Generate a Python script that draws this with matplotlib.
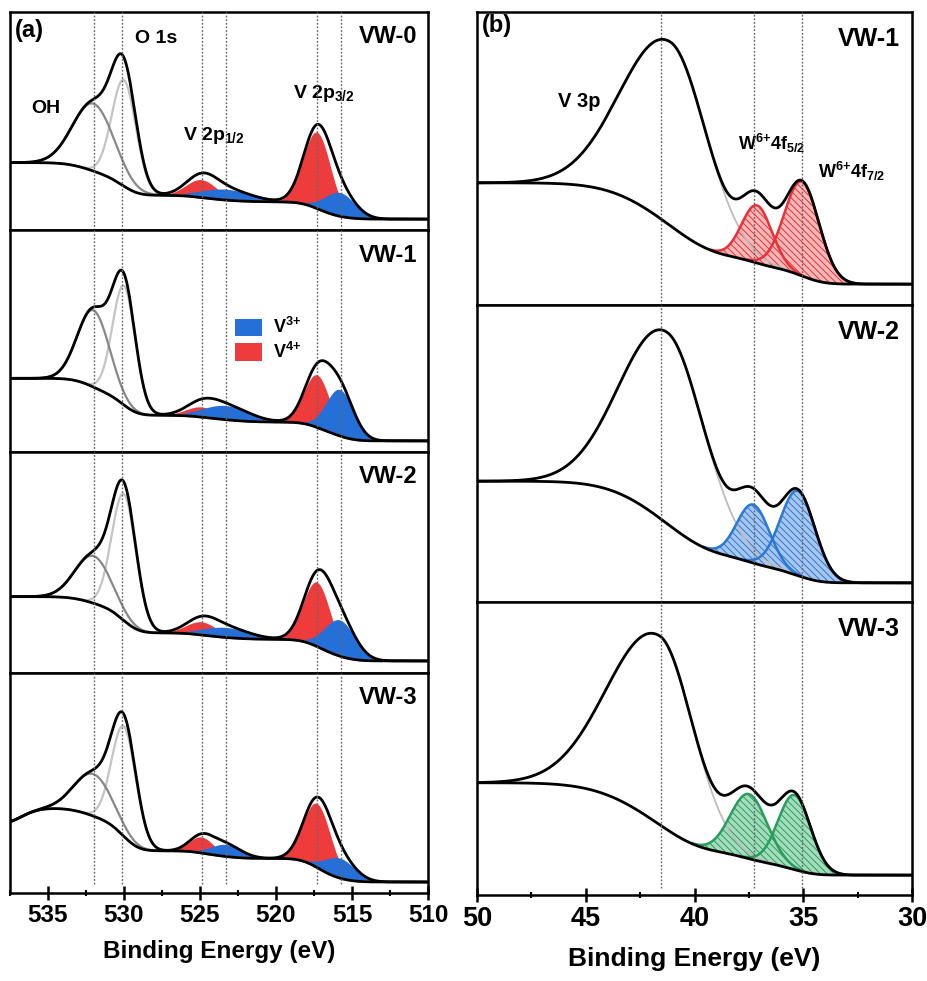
import numpy as np
import matplotlib
matplotlib.use('Agg')
import matplotlib.pyplot as plt
from matplotlib.patches import Patch
from matplotlib.ticker import MultipleLocator

plt.rcParams['font.family'] = ['Liberation Sans', 'DejaVu Sans']
plt.rcParams['font.weight'] = 'bold'
plt.rcParams['axes.labelweight'] = 'bold'
plt.rcParams['mathtext.fontset'] = 'custom'
plt.rcParams['mathtext.rm'] = 'Liberation Sans:bold'
plt.rcParams['mathtext.it'] = 'Liberation Sans:bold'
plt.rcParams['mathtext.bf'] = 'Liberation Sans:bold'
plt.rcParams['hatch.linewidth'] = 0.7

# ---------------- (a) O 1s + V 2p ----------------
samples_a = ['VW-0', 'VW-1', 'VW-2', 'VW-3']
ref_lines_a = [532.0, 530.1, 524.9, 523.3, 517.3, 515.75]
ticks_a = [535, 530, 525, 520, 515, 510]

# peak centres (eV)
oh_c, latt_c = 532.0, 530.0
v4_32_c, v3_32_c = 517.3, 515.8
v4_12_c, v3_12_c = 524.9, 523.3

# heights (a.u.) and widths (sigma, eV) per sample
oh_h = [68, 76, 47, 42]
oh_s = [1.35, 1.05, 1.2, 1.26]
latt_h = [107, 118, 126, 110]
latt_s = [0.8, 0.75, 0.8, 0.8]
v4_32_h = [77, 52, 64, 64]
v4_32_s = [0.9, 0.85, 0.9, 0.9]
v3_32_h = [24, 46, 36, 20]
v3_32_s = [1.0, 0.9, 1.0, 1.0]
v4_12_h = [18, 10, 13, 16]
v4_12_s = [1.0, 1.0, 1.0, 0.8]
v3_12_h = [11, 14, 10, 12]
v3_12_s = [1.6, 1.5, 1.5, 1.0]
bg_left_a = [68, 73, 76, 85]
bg_right_a = [11, 11, 12, 11]
bg_edge_a = [0, 0, 0, -15]   # droop at high-BE end (VW-3)

# ---------------- (b) V 3p + W 4f ----------------
samples_b = ['VW-1', 'VW-2', 'VW-3']
ref_lines_b = [41.55, 37.26, 35.06]
ticks_b = [50, 45, 40, 35, 30]

v3p_c = [41.07, 41.23, 41.58]
v3p_h = [185, 190, 190]
v3p_s_hi = [2.2, 2.1, 2.3]    # high-BE side
v3p_s_lo = [1.65, 1.7, 1.55]  # low-BE side
w52_c = [37.13, 37.3, 37.5]
w52_h = [58, 58, 65]
w52_s = [0.7, 0.75, 0.85]
w72_c = [35.06, 35.25, 35.4]
w72_h = [95, 84, 75]
w72_s = [0.8, 0.8, 0.75]
bg_left_b = [123, 120, 113]
bg_right_b = [21, 19, 20]

RED, BLUE = '#ee3b3b', '#2470d8'
w_line = ['#e8313a', '#2a78d6', '#2a9d5c']
w_fill = ['#f7b8b8', '#a9c6ee', '#a5dcbd']


def gauss(x, c, h, s):
    return h * np.exp(-(x - c) ** 2 / (2 * s ** 2))


def agauss(x, c, h, s_hi, s_lo):
    s = np.where(x > c, s_hi, s_lo)
    return h * np.exp(-(x - c) ** 2 / (2 * s ** 2))


def shirley(x, signal, left, right):
    # x ascending (low BE first)
    cum = np.cumsum(signal)
    return right + (left - right) * cum / cum[-1]


fig = plt.figure(figsize=(9.28, 9.81), dpi=100)
W, H = 928, 981


def axes_px(x0, x1, y0, y1):
    return fig.add_axes([x0 / W, 1 - y1 / H, (x1 - x0) / W, (y1 - y0) / H])


def style(ax, bottom, ticks, minor, size):
    for s in ax.spines.values():
        s.set_linewidth(1.8)
    ax.set_yticks([])
    if bottom:
        ax.set_xticks(ticks)
        ax.xaxis.set_minor_locator(MultipleLocator(minor))
        ax.tick_params(axis='x', which='major', direction='inout', length=10,
                       width=1.8, labelsize=size, pad=3)
        ax.tick_params(axis='x', which='minor', direction='inout', length=5, width=1.5)
    else:
        ax.set_xticks([])


# ---- left column ----
xa = np.linspace(510, 537.5, 2000)
rows_a = [(12, 230), (230, 452), (452, 673), (673, 893)]
for i, name in enumerate(samples_a):
    ax = axes_px(10, 428, *rows_a[i])
    oh = gauss(xa, oh_c, oh_h[i], oh_s[i])
    latt = gauss(xa, latt_c, latt_h[i], latt_s[i])
    v4 = gauss(xa, v4_32_c, v4_32_h[i], v4_32_s[i]) + gauss(xa, v4_12_c, v4_12_h[i], v4_12_s[i])
    v3 = gauss(xa, v3_32_c, v3_32_h[i], v3_32_s[i]) + gauss(xa, v3_12_c, v3_12_h[i], v3_12_s[i])
    total = oh + latt + v4 + v3
    bg = shirley(xa, total, bg_left_a[i], bg_right_a[i]) + gauss(xa, 538.0, bg_edge_a[i], 1.2)

    ax.fill_between(xa, bg, bg + v4, color=RED, lw=0, zorder=2)
    ax.fill_between(xa, bg, bg + v3, color=BLUE, lw=0, zorder=3)
    ax.plot(xa, bg + latt, color='#c4c4c4', lw=1.6, zorder=4)
    ax.plot(xa, bg + oh, color='#888888', lw=1.6, zorder=4)
    ax.plot(xa, bg + total, color='black', lw=2.0, zorder=6)
    ax.plot(xa, bg, color='black', lw=2.0, zorder=6)
    for e in ref_lines_a:
        ax.axvline(e, ymin=0.04 if i == 3 else 0, color='#666666', lw=1.0,
                   ls=(0, (1.3, 1.3)), zorder=7)
    ax.set_xlim(537.5, 510)
    ax.set_ylim(0, 220)
    style(ax, i == 3, ticks_a, 2.5, 17.5)
    ax.text(0.974, 0.858, name, transform=ax.transAxes, ha='right', va='baseline',
            fontsize=17, fontweight='bold')
    if i == 0:
        ax.text(0.012, 0.885, '(a)', transform=ax.transAxes, ha='left', va='baseline', fontsize=17)
        ax.text(0.30, 0.858, 'O 1s', transform=ax.transAxes, ha='left', va='baseline', fontsize=14)
        ax.text(0.05, 0.537, 'OH', transform=ax.transAxes, ha='left', va='baseline', fontsize=14)
        ax.text(0.414, 0.413, 'V 2p$_{1/2}$', transform=ax.transAxes, ha='left', va='baseline', fontsize=14)
        ax.text(0.677, 0.606, 'V 2p$_{3/2}$', transform=ax.transAxes, ha='left', va='baseline', fontsize=14)
    if i == 1:
        handles = [Patch(facecolor=BLUE, edgecolor='none', label='V$^{3{+}}$'),
                   Patch(facecolor=RED, edgecolor='none', label='V$^{4{+}}$')]
        ax.legend(handles=handles, loc='upper left', bbox_to_anchor=(0.50, 0.68),
                  frameon=False, fontsize=13, handlelength=1.5, handleheight=1.1,
                  labelspacing=0.25, handletextpad=0.6)
    if i == 3:
        ax.set_xlabel('Binding Energy (eV)', fontsize=17.5, labelpad=9)

# ---- right column ----
xb = np.linspace(30, 50, 2000)
rows_b = [(12, 305), (305, 602), (602, 895)]
for i, name in enumerate(samples_b):
    ax = axes_px(477, 912, *rows_b[i])
    v3p = agauss(xb, v3p_c[i], v3p_h[i], v3p_s_hi[i], v3p_s_lo[i])
    w52 = gauss(xb, w52_c[i], w52_h[i], w52_s[i])
    w72 = gauss(xb, w72_c[i], w72_h[i], w72_s[i])
    total = v3p + w52 + w72
    bg = shirley(xb, total, bg_left_b[i], bg_right_b[i])

    for comp in (w52, w72):
        mask = comp > 0.6
        ax.fill_between(xb, bg, bg + comp, where=mask, facecolor=w_fill[i],
                        edgecolor=w_line[i], hatch='\\\\\\\\\\', lw=0, zorder=2)
        ax.plot(xb[mask], (bg + comp)[mask], color=w_line[i], lw=1.8, zorder=3)
    ax.plot(xb, bg + v3p, color='#bdbdbd', lw=1.3, zorder=2.5)
    ax.plot(xb, bg + total, color='black', lw=2.0, zorder=6)
    ax.plot(xb, bg, color='black', lw=2.0, zorder=6)
    for e in ref_lines_b:
        ax.axvline(e, ymin=0.025 if i == 2 else 0, color='#666666', lw=1.0,
                   ls=(0, (1.3, 1.3)), zorder=7)
    ax.set_xlim(50, 30)
    ax.set_ylim(0, 295)
    style(ax, i == 2, ticks_b, 2.5, 19.5)
    ax.text(0.972, 0.885, name, transform=ax.transAxes, ha='right', va='baseline',
            fontsize=18, fontweight='bold')
    if i == 0:
        ax.text(0.011, 0.932, '(b)', transform=ax.transAxes, ha='left', va='baseline', fontsize=17)
        ax.text(0.186, 0.676, 'V 3p', transform=ax.transAxes, ha='left', va='baseline', fontsize=14.5)
        ax.text(0.60, 0.529, 'W$^{6{+}}$4f$_{5/2}$', transform=ax.transAxes, ha='left', va='baseline', fontsize=13)
        ax.text(0.784, 0.433, 'W$^{6{+}}$4f$_{7/2}$', transform=ax.transAxes, ha='left', va='baseline', fontsize=13)
    if i == 2:
        ax.set_xlabel('Binding Energy (eV)', fontsize=19, labelpad=11)

fig.savefig('out.png', dpi=100, facecolor='white')
